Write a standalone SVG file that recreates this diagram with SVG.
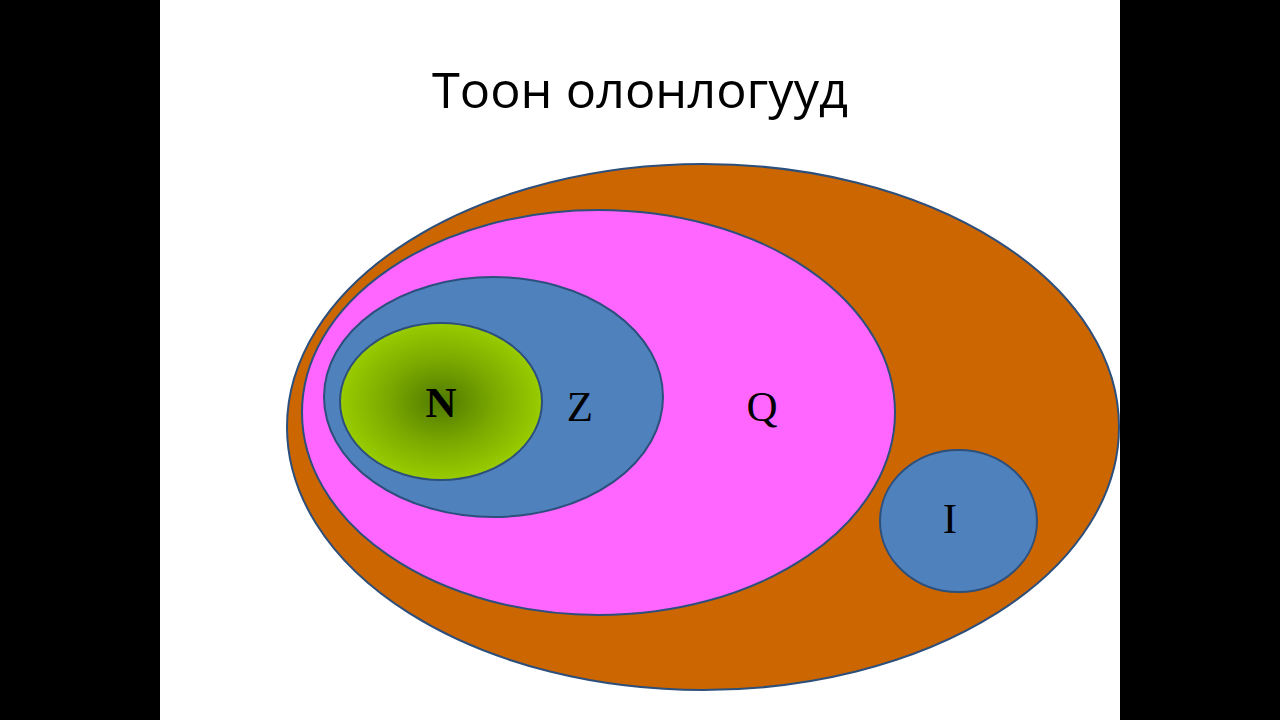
<svg xmlns="http://www.w3.org/2000/svg" width="1280" height="720" viewBox="0 0 1280 720">
<style>
.set{stroke:#2C4F7C;stroke-width:2}
.lbl{font-family:"Liberation Serif","Times New Roman",serif;font-size:43px;fill:#000;text-anchor:middle}
.title{font-family:"Open Sans","Liberation Sans",sans-serif;font-size:50px;fill:#000;text-anchor:middle}
</style>
<defs>
<radialGradient id="ng" cx="0.5" cy="0.5" r="0.5">
<stop offset="0" stop-color="#4F7A00"/>
<stop offset="0.55" stop-color="#7DAA00"/>
<stop offset="1" stop-color="#99CC00"/>
</radialGradient>
</defs>
<rect x="0" y="0" width="1280" height="720" fill="#000"/>
<rect x="160" y="0" width="960" height="720" fill="#fff"/>
<text class="title" x="640" y="108" textLength="416" lengthAdjust="spacingAndGlyphs">Тоон олонлогууд</text>
<g id="R"><ellipse class="set" cx="703" cy="427" rx="416" ry="263" fill="#CC6600"/></g>
<g id="Q"><ellipse class="set" cx="598.5" cy="412.5" rx="296.5" ry="202.5" fill="#FF66FF"/><text class="lbl" x="762" y="421">Q</text></g>
<g id="Z"><ellipse class="set" cx="493.5" cy="397" rx="169.5" ry="120" fill="#4F81BD"/><text class="lbl" x="580" y="421">Z</text></g>
<g id="N"><ellipse class="set" cx="441" cy="401.5" rx="101" ry="78.5" fill="url(#ng)"/><text class="lbl" x="441" y="417" font-weight="bold">N</text></g>
<g id="I"><ellipse class="set" cx="958.5" cy="521" rx="78.5" ry="71" fill="#4F81BD"/><text class="lbl" x="950" y="533">I</text></g>
<g id="connectors"/>
</svg>
